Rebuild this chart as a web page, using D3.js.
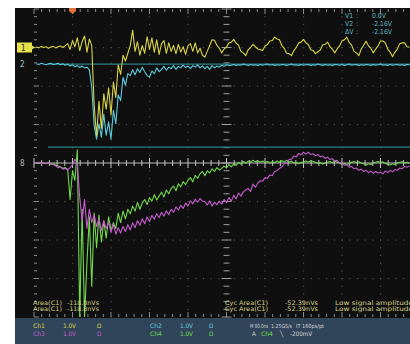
<!DOCTYPE html>
<html><head><meta charset="utf-8">
<script src="https://cdn.jsdelivr.net/npm/d3@7"></script>
<style>
html,body{margin:0;padding:0;background:#fff;}
svg{display:block;}
text{font-family:"DejaVu Sans Condensed","Liberation Sans",sans-serif;}
</style></head><body>
<svg id="scope" width="410" height="344"></svg>
<script>
// Acquisition: samples every 5 ns starting 75 ns before the trigger
const T_START = -75, T_STEP = 5;

// Channel voltages (V), one value per sample
const ch1 = [0.02,-0.01,0.03,0.00,0.02,-0.02,0.01,0.03,-0.01,0.02,0.04,0.00,0.05,
 0.10,-0.05,0.18,0.02,0.25,-0.08,0.15,0.30,-0.12,0.22,0.05,
 -1.50,-2.30,-1.40,-2.10,-1.20,-1.60,-1.05,-1.75,-0.90,-1.30,-0.45,-0.70,-0.20,-0.35,-0.15,0.05,
 0.45,-0.10,0.15,-0.20,0.05,-0.15,0.28,-0.05,0.25,-0.12,0.20,-0.18,0.10,0.18,-0.15,0.12,-0.10,0.05,-0.16,0.08,
 -0.12,0.02,-0.18,0.05,0.10,-0.10,0.12,-0.14,-0.02,-0.20,-0.25,-0.10,0.05,0.20,
 0.19,0.06,-0.02,-0.14,-0.04,0.01,0.12,0.14,0.21,0.11,0.06,-0.10,-0.14,-0.21,-0.06,0.00,0.08,0.02,-0.04,-0.05,
 -0.08,0.04,0.08,0.17,0.18,0.27,0.22,0.20,0.05,-0.02,-0.15,-0.16,-0.21,-0.08,0.00,0.12,0.14,0.21,0.12,0.08,
 -0.06,-0.08,-0.16,-0.11,-0.06,0.07,0.08,0.14,0.02,-0.04,-0.14,-0.03,0.04,0.17,0.20,0.27,0.13,0.06,-0.10,-0.14,
 -0.21,-0.04,0.06,0.16,0.04,-0.02,-0.14,-0.04,0.04,0.17,0.17,0.12,-0.04,-0.12,-0.24,-0.12,-0.04,0.10,0.12,0.12,0.02,0.01];

const ch2 = [0.01,-0.01,0.02,0.00,-0.02,0.01,0.02,-0.01,0.00,0.02,-0.02,0.01,-0.03,0.00,-0.05,-0.02,-0.07,-0.04,-0.09,-0.05,-0.10,-0.08,-0.15,-0.60,
 -1.60,-1.95,-1.55,-1.90,-1.30,-1.85,-1.50,-1.95,-1.20,-1.55,-0.80,-0.95,-0.35,-0.55,-0.25,-0.30,
 -0.15,-0.28,-0.12,-0.22,-0.08,-0.20,-0.30,-0.34,-0.18,-0.25,-0.10,-0.20,-0.14,-0.06,-0.16,-0.08,-0.12,-0.04,-0.14,-0.06,
 -0.10,-0.03,-0.09,-0.05,-0.12,-0.04,-0.08,-0.02,-0.10,-0.05,-0.12,-0.06,-0.14,-0.04,-0.10,-0.05,-0.08,-0.03,-0.06,-0.02,-0.04,
 -0.03,-0.01,-0.04,-0.02,-0.03,0.00,-0.02,-0.04,-0.01,-0.03,-0.02,-0.04,-0.01,-0.03,-0.02,0.00,-0.03,-0.01,-0.04,-0.02,
 -0.03,-0.01,-0.02,-0.04,-0.02,0.00,-0.03,-0.02,-0.04,-0.01,-0.03,-0.02,-0.01,-0.04,-0.02,-0.03,0.00,-0.02,-0.04,-0.01,
 -0.03,-0.02,-0.04,-0.01,-0.02,-0.03,-0.01,-0.04,-0.02,0.00,-0.03,-0.02,-0.01,-0.04,-0.02,-0.03,-0.01,-0.02,-0.04,-0.01,
 -0.03,-0.02,0.00,-0.03,-0.02,-0.04,-0.01,-0.03,-0.02,-0.01,-0.03,-0.02,-0.04,-0.01,-0.02];

const ch3 = [0.00,0.02,-0.01,0.01,-0.02,0.00,-0.03,-0.04,-0.08,-0.12,-0.10,-0.16,-0.14,-0.18,-0.12,-0.05,0.10,-0.02,
 -0.90,-1.50,-0.95,-1.70,-1.20,-1.55,-1.35,-1.65,-1.45,-1.75,-1.50,-1.70,-1.55,-1.80,-1.60,-1.85,-1.68,-1.82,-1.65,-1.78,
 -1.60,-1.74,-1.55,-1.68,-1.50,-1.62,-1.45,-1.58,-1.40,-1.52,-1.36,-1.46,-1.32,-1.42,-1.28,-1.38,-1.24,-1.34,-1.20,-1.28,
 -1.14,-1.22,-1.10,-1.18,-1.04,-1.12,-0.98,-1.06,-0.94,-1.02,-0.92,-0.99,
 -1.00,-1.09,-0.98,-1.12,-1.02,-1.08,-0.99,-1.07,-0.95,-1.03,-0.90,-0.99,-0.84,-0.93,-0.78,-0.86,-0.75,-0.70,-0.66,-0.74,
 -0.55,-0.63,-0.52,-0.46,-0.47,-0.38,-0.40,-0.31,-0.33,-0.22,-0.20,-0.14,-0.10,-0.02,0.00,0.09,0.10,0.18,0.16,0.25,0.21,
 0.28,0.23,0.28,0.22,0.24,0.19,0.22,0.16,0.18,0.12,0.15,0.09,0.11,0.05,0.07,0.00,0.02,-0.06,-0.04,-0.11,
 -0.09,-0.15,-0.13,-0.19,-0.16,-0.22,-0.19,-0.25,-0.21,-0.27,-0.22,-0.26,-0.24,-0.28,-0.21,-0.25,-0.19,-0.23,-0.17,-0.19,
 -0.13,-0.15,-0.09,-0.11,-0.08];

const ch4 = [0.01,-0.01,0.02,0.00,-0.02,0.01,-0.03,-0.02,-0.05,-0.08,-0.10,-0.14,-0.12,-0.17,
 -0.95,-0.20,-0.45,0.34,-4.00,-1.20,-4.00,-2.60,-1.40,-3.20,-1.30,-2.20,-1.35,-2.05,-1.50,-1.95,-1.40,-1.75,-1.55,-1.70,
 -1.30,-1.55,-1.25,-1.45,-1.20,-1.32,-1.12,-1.25,
 -1.02,-1.20,-1.04,-0.95,-1.08,-0.90,-0.99,-0.82,-0.96,-0.86,-0.76,-0.88,-0.70,-0.80,-0.66,-0.60,-0.72,-0.54,-0.62,-0.48,
 -0.56,-0.45,-0.38,-0.49,-0.32,-0.40,-0.28,-0.22,-0.33,-0.20,-0.26,-0.15,-0.22,-0.12,-0.18,-0.14,-0.08,-0.13,-0.04,-0.10,
 -0.02,-0.06,0.02,-0.03,0.04,0.00,
 0.05,0.02,0.07,0.03,0.06,0.02,0.05,0.01,0.04,0.00,0.03,0.01,0.05,0.02,0.06,0.03,0.07,0.02,0.05,0.00,
 0.02,-0.02,0.01,0.03,0.05,0.02,0.06,0.04,0.02,-0.01,0.01,-0.03,0.00,0.02,0.04,0.01,0.05,0.02,0.00,-0.03,
 -0.01,-0.04,-0.01,0.02,0.04,0.01,0.03,0.00,-0.02,-0.05,-0.02,-0.04,0.00,0.02,0.04,0.01,0.03,-0.01,-0.03,-0.05,
 -0.02,-0.04,0.00,0.02,0.03,0.00,0.02,-0.01];

// Vertical position of each channel's ground, in divisions above centre
const positions = {ch1: 3.0, ch2: 2.57, ch3: 0, ch4: 0};
const colors = {ch1: "#d9d447", ch2: "#5cc9dd", ch3: "#c45ccc", ch4: "#72d94e"};

// Cursor readings (V, on Ch2)
const cursorV1 = 0.0, cursorV2 = -2.16;

const cursorLabels = [["V1", ":", "0.0V"], ["V2", ":", "-2.16V"], ["\u0394V", ":", "-2.16V"]];
const measRows = [
  ["Area(C1)", "-118.8nVs", "Cyc Area(C1)", "-52.39nVs", "Low signal amplitude"],
  ["Area(C1)", "-118.8nVs", "Cyc Area(C1)", "-52.39nVs", "Low signal amplitude"]
];

const svg = d3.select("#scope");

// time base 80 ns/div, 10 divisions; 1 V/div, 8 divisions
const x = d3.scaleLinear().domain([-80, 720]).range([34, 419]);
const y = d3.scaleLinear().domain([-4, 4]).range([317, 9]);

// screen
svg.append("rect").attr("x", 15).attr("y", 8).attr("width", 395).attr("height", 336).attr("fill", "#0f0f0f");

// graticule dots
const grid = svg.append("g");
const vDivs = d3.range(-80, 721, 80);
const hDivs = d3.range(-4, 5, 1);
const minorT = d3.range(-80, 721, 16);
const minorV = d3.range(-4, 4.001, 0.2);
vDivs.slice(1, -1).forEach(t => {
  minorV.forEach(v => grid.append("rect").attr("x", x(t) - 0.5).attr("y", y(v) - 0.5)
    .attr("width", 1.2).attr("height", 1.2).attr("fill", "#4c4c4c"));
});
hDivs.slice(1, -1).forEach(v => {
  minorT.forEach(t => grid.append("rect").attr("x", x(t) - 0.5).attr("y", y(v) - 0.5)
    .attr("width", 1.2).attr("height", 1.2).attr("fill", "#4c4c4c"));
});

// rulers: top, bottom, left edges and centre cross
const rul = svg.append("g").attr("stroke", "#8a8a8a").attr("stroke-width", 1);
minorT.forEach((t, k) => {
  const L = k % 5 === 0 ? 5 : 3;
  rul.append("line").attr("x1", x(t)).attr("x2", x(t)).attr("y1", y(4)).attr("y2", y(4) + L);
  rul.append("line").attr("x1", x(t)).attr("x2", x(t)).attr("y1", y(-4)).attr("y2", y(-4) - L);
  rul.append("line").attr("x1", x(t)).attr("x2", x(t)).attr("y1", y(0) - L).attr("y2", y(0) + L)
    .attr("stroke", "#c4c4c4");
});
minorV.forEach((v, k) => {
  const L = k % 5 === 0 ? 5 : 3;
  rul.append("line").attr("x1", x(-80)).attr("x2", x(-80) + L).attr("y1", y(v)).attr("y2", y(v));
  rul.append("line").attr("x1", x(320) - L).attr("x2", x(320) + L).attr("y1", y(v)).attr("y2", y(v))
    .attr("stroke", "#9a9a9a");
});
rul.append("line").attr("x1", x(-80)).attr("x2", 410).attr("y1", y(0)).attr("y2", y(0))
  .attr("stroke", "#b8b8b8");

// cursors
const cur = svg.append("g").attr("stroke", "#2f8086").attr("stroke-width", 1.3);
[cursorV1, cursorV2].forEach(v => {
  cur.append("line").attr("x1", 48).attr("x2", 410)
    .attr("y1", y(v + positions.ch2)).attr("y2", y(v + positions.ch2));
});

// traces
svg.append("clipPath").attr("id", "plot").append("rect")
  .attr("x", 34).attr("y", 9).attr("width", 376).attr("height", 308);
const traces = svg.append("g").attr("clip-path", "url(#plot)");
function trace(data, key) {
  const line = d3.line()
    .x((d, i) => x(T_START + i * T_STEP))
    .y(d => y(d + positions[key]));
  traces.append("path").datum(data).attr("d", line)
    .attr("fill", "none").attr("stroke", colors[key]).attr("stroke-width", 1.1)
    .attr("stroke-linejoin", "round");
}
trace(ch2, "ch2");
trace(ch1, "ch1");
trace(ch4, "ch4");
trace(ch3, "ch3");

// trigger position marker
const tx = x(0);
svg.append("path")
  .attr("d", `M${tx - 3.5},8 H${tx + 3.5} V11 L${tx},14 L${tx - 3.5},11 Z`)
  .attr("fill", "#e2733c");

// channel ground markers
const m1 = y(positions.ch1);
svg.append("rect").attr("x", 17).attr("y", m1 - 5).attr("width", 15).attr("height", 10).attr("fill", "#e6e24c");
svg.append("text").attr("x", 21).attr("y", m1 + 3).attr("font-size", 8).attr("fill", "#222").text("1");
svg.append("path").attr("d", `M32,${m1 - 2} L35,${m1} L32,${m1 + 2} Z`).attr("fill", "#e6e24c");
svg.append("text").attr("x", 20).attr("y", y(positions.ch2) + 3).attr("font-size", 8).attr("fill", "#9fc8cc").text("2");
svg.append("text").attr("x", 20).attr("y", y(0) + 3).attr("font-size", 8).attr("fill", "#b5b5b5").text("8");

// small text helper: stretched horizontally to the given width
function label(g, px, py, str, fill, width) {
  const t = g.append("text").attr("x", px).attr("y", py).text(str);
  if (fill) t.attr("fill", fill);
  if (width) t.attr("textLength", width).attr("lengthAdjust", "spacingAndGlyphs");
  return t;
}

// cursor readout
const cr = svg.append("g").attr("font-size", 6.8).attr("fill", "#5fbcc4");
cursorLabels.forEach((r, k) => {
  const by = 18 + k * 8.2;
  label(cr, 345, by, r[0]);
  label(cr, 356, by, r[1]);
  label(cr, 372, by, r[2]);
});

// measurements
const mt = svg.append("g").attr("font-size", 6.2).attr("fill", "#d4d28c");
measRows.forEach((r, k) => {
  const by = 304.5 + k * 6.8;
  label(mt, 33, by, r[0], null, 29);
  label(mt, 67, by, r[1], null, 32);
  label(mt, 225, by, r[2], null, 43);
  label(mt, 285, by, r[3], null, 33);
  label(mt, 335, by, r[4], null, 78);
});

// status bar
svg.append("rect").attr("x", 15).attr("y", 318).attr("width", 395).attr("height", 26).attr("fill", "#30455a");
const sb = svg.append("g").attr("font-size", 6.2);
const r1 = 328, r2 = 336;
const status = [
  {x: 33, y: r1, t: "Ch1", c: colors.ch1, w: 12}, {x: 63, y: r1, t: "1.0V", c: colors.ch1, w: 13}, {x: 97, y: r1, t: "\u03A9", c: colors.ch1},
  {x: 150, y: r1, t: "Ch2", c: colors.ch2, w: 12}, {x: 180, y: r1, t: "1.0V", c: colors.ch2, w: 13}, {x: 209, y: r1, t: "\u03A9", c: colors.ch2},
  {x: 250, y: r1, t: "M 80.0ns", c: "#d6d6d6", w: 18, fs: 5.6}, {x: 271, y: r1, t: "1.25GS/s", c: "#d6d6d6", w: 21, fs: 5.4},
  {x: 296, y: r1, t: "IT 160ps/pt", c: "#d6d6d6", w: 28, fs: 5.6},
  {x: 33, y: r2, t: "Ch3", c: colors.ch3, w: 12}, {x: 63, y: r2, t: "1.0V", c: colors.ch3, w: 13}, {x: 97, y: r2, t: "\u03A9", c: colors.ch3},
  {x: 150, y: r2, t: "Ch4", c: colors.ch4, w: 12}, {x: 180, y: r2, t: "1.0V", c: colors.ch4, w: 13}, {x: 209, y: r2, t: "\u03A9", c: colors.ch4},
  {x: 252, y: r2, t: "A", c: "#d6d6d6"}, {x: 261, y: r2, t: "Ch4", c: colors.ch4, w: 12},
  {x: 280, y: r2, t: "\u2572", c: "#d6d6d6"}, {x: 290, y: r2, t: "-200mV", c: "#d6d6d6", w: 22}
];
status.forEach(s => {
  const t = label(sb, s.x, s.y, s.t, s.c, s.w);
  if (s.fs) t.attr("font-size", s.fs);
});
</script>
</body></html>
